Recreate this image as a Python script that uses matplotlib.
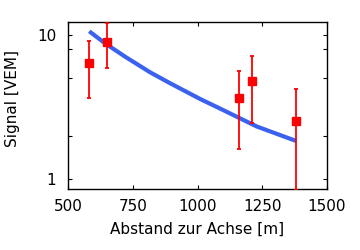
import matplotlib

matplotlib.use("Agg")
import matplotlib.pyplot as plt
from matplotlib.ticker import FixedLocator, NullFormatter

# measured stations (distance to axis, signal, symmetric error)
station_r = [582, 652, 1161, 1212, 1381]
station_s = [6.36, 8.99, 3.63, 4.77, 2.52]
station_err = [2.7, 3.1, 2.03, 2.33, 1.68]

# fitted lateral distribution function
ldf_r = [582, 643, 720, 817, 894, 1010, 1100, 1163, 1229, 1382]
ldf_s = [10.6, 8.75, 7.07, 5.5, 4.62, 3.59, 3.0, 2.64, 2.31, 1.83]

plt.rcParams["font.family"] = ["DejaVu Sans"]
plt.rcParams["font.size"] = 11

fig = plt.figure(figsize=(3.6, 2.5), dpi=100)
ax = fig.add_axes([68 / 360, 1 - 189 / 250, (327 - 68) / 360, (189 - 22) / 250])

ax.plot(ldf_r, ldf_s, color="#3a62ee", lw=3.0, solid_capstyle="butt", zorder=2)
ax.errorbar(station_r, station_s, yerr=station_err, fmt="s", color="red",
            ms=5.6, elinewidth=1.3, capsize=1.5, capthick=1.3, zorder=3)

ax.set_yscale("log")
ax.set_xlim(500, 1500)
ax.set_ylim(0.85, 12.3)
ax.set_xticks([500, 750, 1000, 1250, 1500])
ax.yaxis.set_major_locator(FixedLocator([1, 10]))
ax.yaxis.set_minor_locator(FixedLocator([2, 5, 8]))
ax.yaxis.set_minor_formatter(NullFormatter())
ax.set_yticklabels(["1", "10"])
ax.tick_params(which="both", direction="in", top=True, right=True,
               length=3, width=0.8)
ax.tick_params(axis="x", pad=7.5)
ax.tick_params(axis="y", pad=8.5)
for s in ax.spines.values():
    s.set_linewidth(1.0)

ax.set_xlabel("Abstand zur Achse [m]")
ax.set_ylabel("Signal [VEM]")
ax.xaxis.set_label_coords(0.5, -0.198)
ax.yaxis.set_label_coords(-0.187, 0.542)

fig.savefig("out.png", dpi=100)
